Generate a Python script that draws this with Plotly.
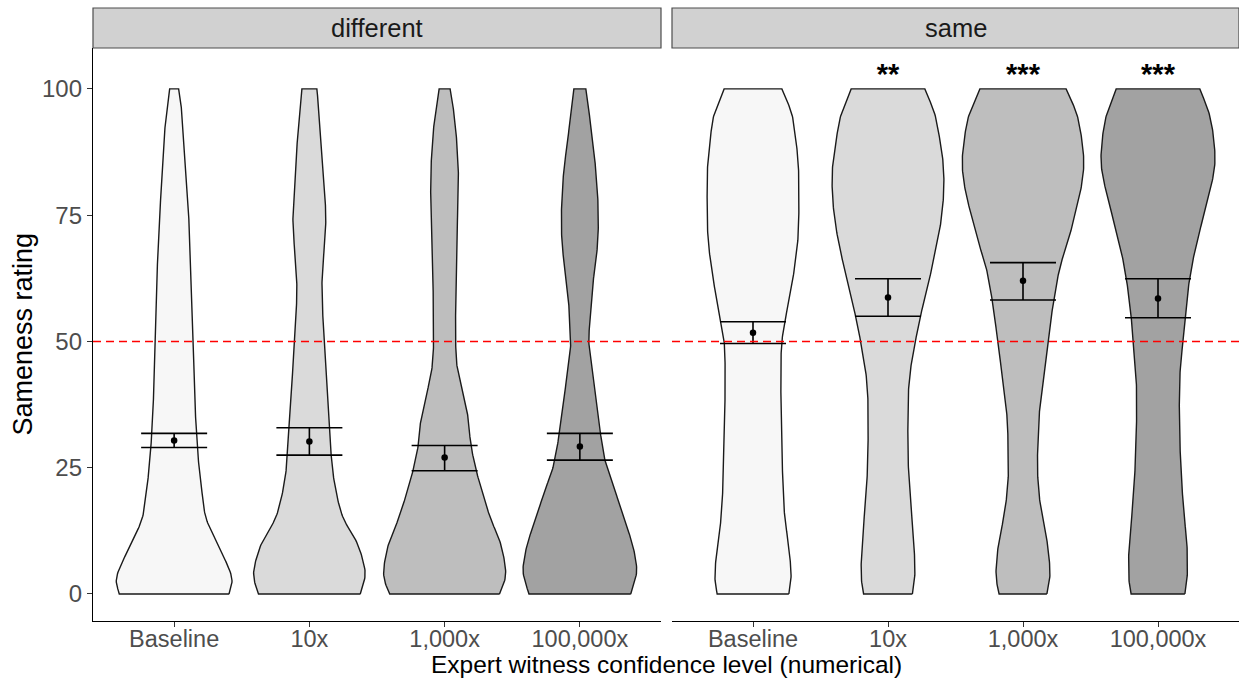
import numpy as np
import plotly.graph_objects as go

# ---------------- data ----------------
categories = ["Baseline", "10x", "1,000x", "100,000x"]
facets = ["different", "same"]

# rating levels at which the violin density profile was read
density_levels = [0, 2.5, 5, 10, 15, 20, 25, 30, 35, 40, 45, 50,
                  55, 60, 65, 70, 75, 80, 85, 90, 95, 100]

# relative density (violin half-width) per condition
diff_baseline_density = [55, 58, 55, 43, 32, 28, 25, 23, 21.5, 20.5, 19.8, 19,
                         18.2, 17.5, 16.8, 16, 14.5, 13, 11.5, 10, 8, 4.5]
diff_10x_density = [51, 55, 55.5, 48, 34, 27, 23, 21, 19.5, 18, 16.5, 15,
                    13.5, 12.5, 13.5, 15.5, 16.5, 15, 13.5, 12, 10, 7.5]
diff_1000x_density = [55, 60, 61, 56, 46, 38, 31, 26, 23.5, 17.5, 12.5, 11,
                      11, 11.5, 12, 12.3, 13, 14, 13.5, 12, 9.5, 5.5]
diff_100000x_density = [51, 55, 57, 52.5, 44, 36, 27, 22, 18.5, 15, 12, 9,
                        10.5, 12, 15.5, 18, 18.5, 17.5, 15.5, 12, 9.5, 6]

same_baseline_density = [36, 38, 38, 35.5, 32, 30.5, 29.5, 29, 28.5, 28, 28, 29,
                         33, 38, 42, 45, 46, 46, 45.5, 43, 39, 29]
same_10x_density = [24.5, 26.5, 27, 26, 24, 22, 20.5, 20, 20, 20.5, 23, 27.5,
                    32.5, 39, 44.5, 50, 54, 56, 55.5, 52, 47, 37]
same_1000x_density = [24, 26.5, 27, 24.5, 19.5, 16, 14.5, 15, 16, 19, 22, 25.5,
                      28.5, 32.5, 37.5, 45.5, 52, 58, 61, 59, 54, 43.3]
same_100000x_density = [27, 29, 29.5, 29, 26.5, 24.5, 23, 22, 21.5, 21.5, 22.5, 25,
                        27, 30, 34, 39.5, 46, 52.5, 57, 56, 51.5, 42]

# means with confidence interval bounds
diff_mean = [30.4, 30.2, 27.0, 29.2]
diff_upper = [31.8, 32.9, 29.4, 31.8]
diff_lower = [29.0, 27.5, 24.4, 26.5]
same_mean = [51.7, 58.7, 62.0, 58.5]
same_upper = [53.9, 62.4, 65.6, 62.4]
same_lower = [49.6, 55.0, 58.2, 54.7]

# significance labels (same condition)
same_signif = ["", "**", "***", "***"]
signif_y = 102.4
reference_line = 50

fill_colors = ["#F7F7F7", "#DADADA", "#BEBEBE", "#A2A2A2"]

densities = {
    "different": [diff_baseline_density, diff_10x_density, diff_1000x_density, diff_100000x_density],
    "same": [same_baseline_density, same_10x_density, same_1000x_density, same_100000x_density],
}
stats = {
    "different": (diff_mean, diff_upper, diff_lower),
    "same": (same_mean, same_upper, same_lower),
}

# max violin half-width in category units (ggplot width 0.9)
max_dens = max(max(d) for f in facets for d in densities[f])
dens_to_width = 0.45 / max_dens


def smooth_profile(xs, ys, n=300):
    xs = np.asarray(xs, float)
    ys = np.asarray(ys, float)
    m = np.zeros_like(ys)
    m[1:-1] = (ys[2:] - ys[:-2]) / (xs[2:] - xs[:-2])
    m[0] = (ys[1] - ys[0]) / (xs[1] - xs[0])
    m[-1] = (ys[-1] - ys[-2]) / (xs[-1] - xs[-2])
    t = np.linspace(xs[0], xs[-1], n)
    idx = np.clip(np.searchsorted(xs, t, side="right") - 1, 0, len(xs) - 2)
    x0, x1 = xs[idx], xs[idx + 1]
    h = x1 - x0
    s = (t - x0) / h
    h00 = 2 * s**3 - 3 * s**2 + 1
    h10 = s**3 - 2 * s**2 + s
    h01 = -2 * s**3 + 3 * s**2
    h11 = s**3 - s**2
    out = h00 * ys[idx] + h10 * h * m[idx] + h01 * ys[idx + 1] + h11 * h * m[idx + 1]
    return t, out


fig = go.Figure()

axis_names = {"different": ("x", "y"), "same": ("x2", "y")}

for f in facets:
    xa, ya = axis_names[f]
    for i, cat in enumerate(categories):
        pos = i + 1
        yy, dd = smooth_profile(density_levels, densities[f][i])
        w = dd * dens_to_width
        xs = np.concatenate([pos + w, (pos - w)[::-1], [pos + w[0]]])
        ys = np.concatenate([yy, yy[::-1], [yy[0]]])
        fig.add_trace(go.Scatter(
            x=xs, y=ys, mode="lines", fill="toself",
            fillcolor=fill_colors[i],
            line=dict(color="#1a1a1a", width=1.4),
            xaxis=xa, yaxis=ya, hoverinfo="skip", showlegend=False,
        ))
    mean, upper, lower = stats[f]
    fig.add_trace(go.Scatter(
        x=[1, 2, 3, 4], y=mean, mode="markers",
        marker=dict(color="black", size=6.5),
        error_y=dict(type="data", symmetric=False,
                     array=[u - m for u, m in zip(upper, mean)],
                     arrayminus=[m - l for m, l in zip(mean, lower)],
                     width=33, thickness=1.6, color="black"),
        xaxis=xa, yaxis=ya, hoverinfo="skip", showlegend=False,
    ))

# significance stars
fig.add_trace(go.Scatter(
    x=[1, 2, 3, 4], y=[signif_y] * 4, mode="text",
    text=[f"<b>{s}</b>" if s else "" for s in same_signif],
    textposition="middle center",
    textfont=dict(size=29, color="black", family="Liberation Sans"),
    xaxis="x2", yaxis="y", hoverinfo="skip", showlegend=False,
))

W, H = 1239, 684
ml, mr, mt, mb = 93, 0, 8, 63
pw = W - ml - mr
ph = H - mt - mb
strip_h = 40
ydom_top = (ph - strip_h) / ph
left_dom = [0, 568 / pw]
right_dom = [579 / pw, 1]

font_family = "Liberation Sans, Arial, sans-serif"
xaxis_common = dict(
    range=[0.4, 4.6], tickvals=[1, 2, 3, 4], ticktext=categories,
    showline=True, linecolor="black", linewidth=1.3,
    ticks="outside", ticklen=5, tickcolor="#333333", tickwidth=1.1,
    tickfont=dict(size=23.5, color="#4D4D4D", family=font_family),
    ticklabelstandoff=-8,
    showgrid=False, zeroline=False, fixedrange=True,
)

fig.update_layout(
    width=W, height=H,
    margin=dict(l=ml, r=mr, t=mt, b=mb, autoexpand=False),
    plot_bgcolor="white", paper_bgcolor="white",
    font=dict(family=font_family),
    showlegend=False,
    xaxis=dict(domain=left_dom, anchor="y", **xaxis_common),
    xaxis2=dict(domain=right_dom, anchor="y", **xaxis_common),
    yaxis=dict(
        domain=[0, ydom_top], range=[-5.35, 108.1],
        tickvals=[0, 25, 50, 75, 100],
        showline=True, linecolor="black", linewidth=1.3,
        ticks="outside", ticklen=5, tickcolor="#333333", tickwidth=1.1,
        tickfont=dict(size=24, color="#4D4D4D", family=font_family),
        showgrid=False, zeroline=False, fixedrange=True,
    ),
)

# reference line at 50 in each panel
for xa in ["x", "x2"]:
    fig.add_shape(type="line", xref=f"{xa} domain", yref="y",
                  x0=0, x1=1, y0=reference_line, y1=reference_line,
                  line=dict(color="#FF0000", width=1.6, dash="8px,5px"), layer="above")

# facet strips
for f, dom in zip(facets, [left_dom, right_dom]):
    fig.add_shape(type="rect", xref="paper", yref="paper",
                  x0=dom[0], x1=dom[1], y0=ydom_top, y1=1,
                  fillcolor="#D1D1D1", line=dict(color="#4D4D4D", width=1.2), layer="below")
    fig.add_annotation(x=(dom[0] + dom[1]) / 2, y=(ydom_top + 1) / 2,
                       xref="paper", yref="paper", text=f, showarrow=False,
                       font=dict(size=25.5, color="#1A1A1A", family=font_family),
                       xanchor="center", yanchor="middle")

# axis titles
fig.add_annotation(x=0.5, y=-43 / ph, xref="paper", yref="paper",
                   text="Expert witness confidence level (numerical)", showarrow=False,
                   font=dict(size=24.5, color="black", family=font_family),
                   xanchor="center", yanchor="middle")
fig.add_annotation(x=(22 - ml) / pw, y=ydom_top / 2, xref="paper", yref="paper",
                   text="Sameness rating", showarrow=False, textangle=-90,
                   font=dict(size=27, color="black", family=font_family),
                   xanchor="center", yanchor="middle")

fig.write_html(
    "out.html",
    config={"displayModeBar": False},
    post_script="document.body.style.margin='0px';document.body.style.overflow='hidden';",
)
